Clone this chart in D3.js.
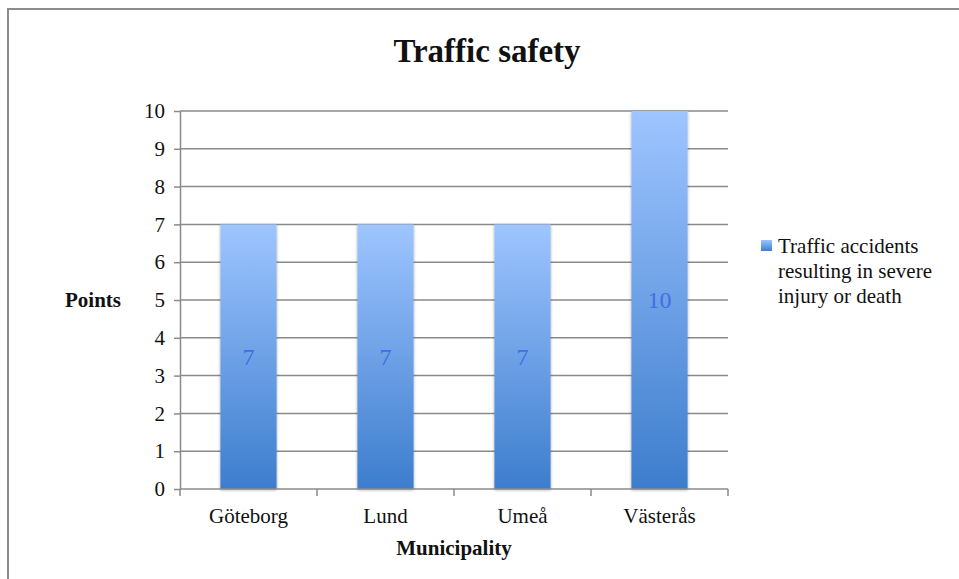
<!DOCTYPE html>
<html><head><meta charset="utf-8">
<script src="https://cdn.jsdelivr.net/npm/d3@7"></script>
<style>body{margin:0;background:#fff;} text{font-family:"Liberation Serif","DejaVu Serif",serif;}</style>
</head><body>
<svg id="c" width="959" height="579"></svg>
<script>
const categories = ["Göteborg", "Lund", "Umeå", "Västerås"];
const values = [7, 7, 7, 10];
const yTicks = [0,1,2,3,4,5,6,7,8,9,10];
const seriesName = ["Traffic accidents", "resulting in severe", "injury or death"];
const title = "Traffic safety";
const xTitle = "Municipality";
const yTitle = "Points";

(function(){
const svg = d3.select("#c");
const FS = 21;
// chart border
svg.append("rect").attr("x", 8).attr("y", 9).attr("width", 1000).attr("height", 1000)
  .attr("fill", "#fff").attr("stroke", "#8c8c8c").attr("stroke-width", 2);

const pl = 180, pr = 728, pt = 111, pb = 489;
const x = d3.scaleBand().domain(categories).range([pl, pr]).paddingInner(0.59).paddingOuter(0.295);
const xb = d3.scaleBand().domain(categories).range([pl, pr]);
const y = d3.scaleLinear().domain([0, 10]).range([pb, pt]);

const defs = svg.append("defs");
const g = defs.append("linearGradient").attr("id", "bg").attr("x1", 0).attr("y1", 0).attr("x2", 0).attr("y2", 1);
g.append("stop").attr("offset", "0%").attr("stop-color", "#9ec5ff");
g.append("stop").attr("offset", "100%").attr("stop-color", "#3d7dcd");
const f = defs.append("filter").attr("id", "sh").attr("x", "-20%").attr("y", "-5%").attr("width", "140%").attr("height", "115%");
f.append("feDropShadow").attr("dx", 0).attr("dy", 1).attr("stdDeviation", 1.5).attr("flood-color", "#000").attr("flood-opacity", 0.35);

// gridlines
svg.append("g").selectAll("line").data(yTicks.filter(d => d > 0)).join("line")
  .attr("x1", pl).attr("x2", pr).attr("y1", d => y(d)).attr("y2", d => y(d))
  .attr("stroke", "#8a8a8a").attr("stroke-width", 1.5);

// bars
svg.append("g").selectAll("rect").data(values).join("rect")
  .attr("x", (d, i) => x(categories[i])).attr("width", x.bandwidth())
  .attr("y", d => y(d)).attr("height", d => pb - y(d))
  .attr("fill", "url(#bg)").attr("filter", "url(#sh)");

// y axis
const yAxis = svg.append("g").attr("transform", `translate(${pl},0)`)
  .call(d3.axisLeft(y).tickValues(yTicks).tickSize(6).tickSizeOuter(0).tickPadding(9));
yAxis.select(".domain").attr("stroke", "#8a8a8a").attr("stroke-width", 1.5);
yAxis.selectAll(".tick line").attr("stroke", "#8a8a8a").attr("stroke-width", 1.5);
yAxis.selectAll("text").attr("font-size", FS).attr("fill", "#111").attr("font-family", "Liberation Serif");

// x axis
const xAxis = svg.append("g").attr("transform", `translate(0,${pb})`)
  .call(d3.axisBottom(xb).tickSize(0).tickPadding(19));
xAxis.select(".domain").remove();
xAxis.selectAll("text").attr("font-size", FS).attr("fill", "#111").attr("font-family", "Liberation Serif");
svg.append("line").attr("x1", pl).attr("x2", pr).attr("y1", pb).attr("y2", pb)
  .attr("stroke", "#8a8a8a").attr("stroke-width", 1.5);
const bounds = categories.map(c => xb(c)).concat([pr]);
svg.append("g").selectAll("line").data(bounds).join("line")
  .attr("x1", d => d).attr("x2", d => d).attr("y1", pb).attr("y2", pb + 7)
  .attr("stroke", "#8a8a8a").attr("stroke-width", 1.5);

// data labels
svg.append("g").selectAll("text").data(values).join("text")
  .attr("x", (d, i) => x(categories[i]) + x.bandwidth() / 2)
  .attr("y", d => (y(d) + pb) / 2 + 8)
  .attr("text-anchor", "middle").attr("font-size", 24).attr("fill", "#3f6ee8")
  .text(d => d);

// titles
svg.append("text").attr("x", 487).attr("y", 62).attr("text-anchor", "middle")
  .attr("font-size", 33).attr("font-weight", "bold").attr("fill", "#111").text(title);
svg.append("text").attr("x", 454).attr("y", 555).attr("text-anchor", "middle")
  .attr("font-size", FS).attr("font-weight", "bold").attr("fill", "#111").text(xTitle);
svg.append("text").attr("x", 93).attr("y", 307).attr("text-anchor", "middle")
  .attr("font-size", FS).attr("font-weight", "bold").attr("fill", "#111").text(yTitle);

// legend
svg.append("rect").attr("x", 761).attr("y", 240).attr("width", 11).attr("height", 11).attr("fill", "url(#bg)");
svg.append("g").selectAll("text").data(seriesName).join("text")
  .attr("x", 778).attr("y", (d, i) => 253 + i * 25)
  .attr("font-size", FS).attr("fill", "#111").text(d => d);
})();
</script>
</body></html>
